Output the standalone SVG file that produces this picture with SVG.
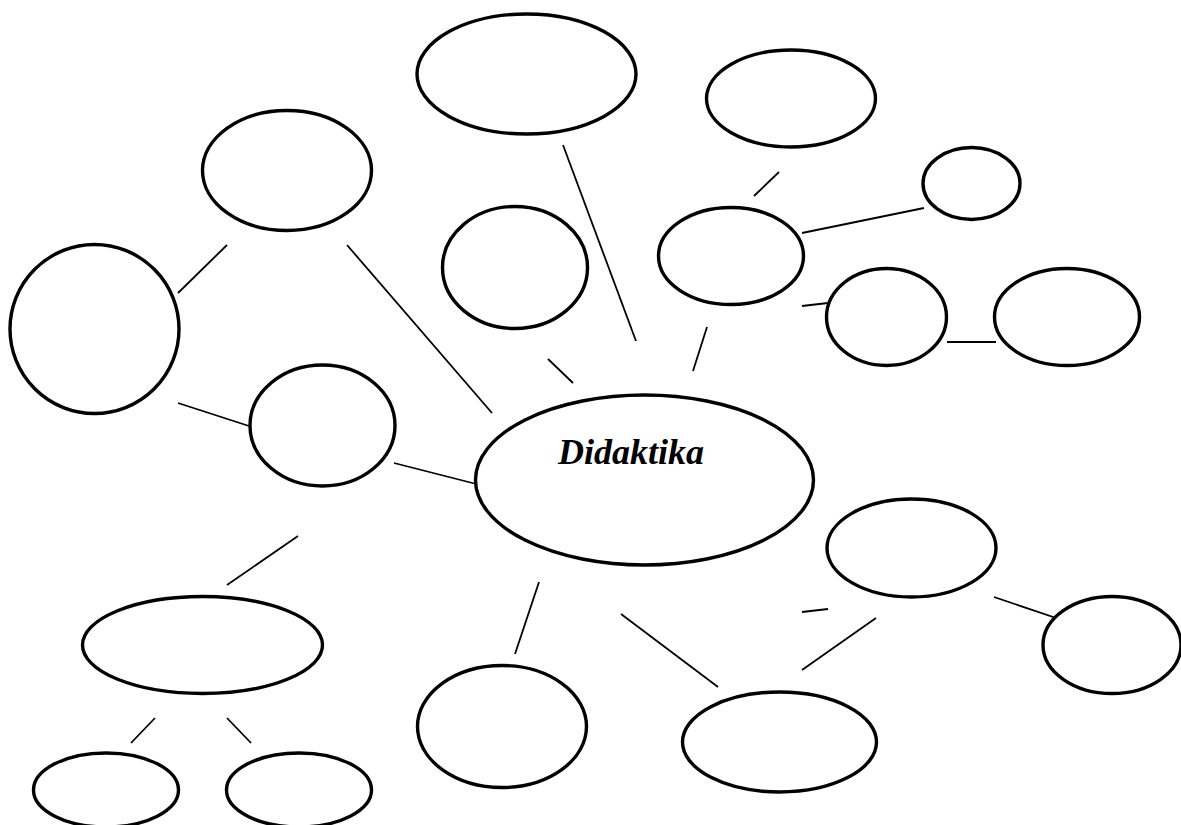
<svg xmlns="http://www.w3.org/2000/svg" width="1181" height="825" viewBox="0 0 1181 825">
<style>
.n{fill:#fff;stroke:#000;stroke-width:3.4}
.c line{stroke:#000;stroke-width:1.8}
.t{font-family:"Liberation Serif","Times New Roman",serif;font-size:36px;font-weight:bold;font-style:italic;fill:#000}
</style>
<rect width="1181" height="825" fill="#fff"/>
<g class="c" id="connectors">
<line x1="563" y1="145" x2="636" y2="341"/>
<line x1="779" y1="172" x2="754" y2="196"/>
<line x1="802" y1="233" x2="924" y2="208"/>
<line x1="802" y1="306" x2="828" y2="303"/>
<line x1="947" y1="342" x2="996" y2="342"/>
<line x1="707" y1="327" x2="693" y2="371"/>
<line x1="548" y1="359" x2="573" y2="383"/>
<line x1="227" y1="245" x2="178" y2="293"/>
<line x1="347" y1="245" x2="492" y2="413"/>
<line x1="178" y1="403" x2="249" y2="426"/>
<line x1="394" y1="463" x2="492" y2="488"/>
<line x1="298" y1="536" x2="227" y2="585"/>
<line x1="539" y1="582" x2="515" y2="654"/>
<line x1="621" y1="614" x2="718" y2="687"/>
<line x1="802" y1="612" x2="828" y2="609"/>
<line x1="876" y1="618" x2="802" y2="670"/>
<line x1="994" y1="597" x2="1068" y2="622"/>
<line x1="155" y1="718" x2="131" y2="743"/>
<line x1="227" y1="718" x2="251" y2="743"/>
</g>
<g id="n1"><ellipse class="n" cx="526.5" cy="74" rx="109.5" ry="60"/></g>
<g id="n2"><ellipse class="n" cx="791" cy="98.5" rx="84.5" ry="48.5"/></g>
<g id="n3"><ellipse class="n" cx="971.5" cy="183.5" rx="48.5" ry="36"/></g>
<g id="n4"><ellipse class="n" cx="731" cy="256" rx="72.5" ry="48.5"/></g>
<g id="n5"><ellipse class="n" cx="886.5" cy="317" rx="60" ry="48.5"/></g>
<g id="n6"><ellipse class="n" cx="1067" cy="317" rx="72.5" ry="48.5"/></g>
<g id="n7"><ellipse class="n" cx="287" cy="170.5" rx="84.5" ry="60"/></g>
<g id="n8"><ellipse class="n" cx="94.5" cy="329" rx="84.5" ry="84.5"/></g>
<g id="n9"><ellipse class="n" cx="322.5" cy="425.5" rx="72.5" ry="60.5"/></g>
<g id="n10"><ellipse class="n" cx="515" cy="267.5" rx="72.5" ry="61"/></g>
<g id="center"><ellipse class="n" cx="644.5" cy="480" rx="169" ry="85"/><text class="t" x="558" y="464">Didaktika</text></g>
<g id="n11"><ellipse class="n" cx="911.5" cy="548" rx="84.5" ry="49"/></g>
<g id="n12"><ellipse class="n" cx="1112" cy="645" rx="69" ry="48.5"/></g>
<g id="n13"><ellipse class="n" cx="202.5" cy="645" rx="120" ry="48.5"/></g>
<g id="n14"><ellipse class="n" cx="502" cy="726.5" rx="84.5" ry="61"/></g>
<g id="n15"><ellipse class="n" cx="779.5" cy="742" rx="97" ry="50"/></g>
<g id="n16"><ellipse class="n" cx="106" cy="790" rx="72.5" ry="37"/></g>
<g id="n17"><ellipse class="n" cx="299" cy="790" rx="72.5" ry="37"/></g>
</svg>
